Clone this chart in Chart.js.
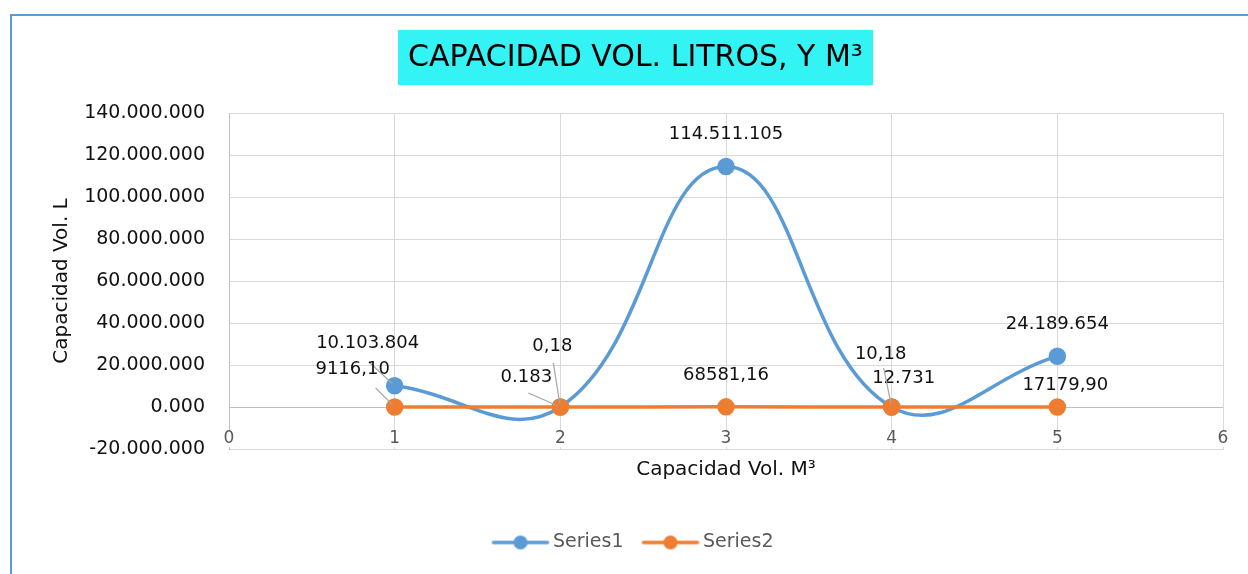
<!DOCTYPE html>
<html><head><meta charset="utf-8">
<script src="https://cdn.jsdelivr.net/npm/chart.js@4.4.0/dist/chart.umd.min.js"></script>
<style>html,body{margin:0;padding:0;background:#fff;overflow:hidden}#wrap{width:1248px;height:574px;position:relative}</style>
</head><body><div id="wrap"><canvas id="c" width="1248" height="574"></canvas></div>
<script>
// ---- data ----
const xValues = [1, 2, 3, 4, 5];
const series1 = [10103804, 183, 114511105, 12731, 24189654];
const series2 = [9116.10, 0.18, 68581.16, 10.18, 17179.90];
const seriesNames = ['Series1', 'Series2'];
const xTickValues = [0, 1, 2, 3, 4, 5, 6];
const yTickValues = [-20000000, 0, 20000000, 40000000, 60000000, 80000000, 100000000, 120000000, 140000000];
const chartTitle = 'CAPACIDAD VOL. LITROS, Y M³';
const xTitle = 'Capacidad Vol. M³';
const yTitle = 'Capacidad Vol. L';

// ---- styles ----
const FONT = "'DejaVu Sans', 'Liberation Sans', sans-serif";
const BLUE = '#5B9BD5', ORANGE = '#ED7D31';
// label placement (pixel offsets from the marker; lead = start of leader line)
const labelPlace = [
  [{dx:-27,dy:-42,lead:[-26,-24]},{dx:-34,dy:-30,lead:[-32,-14]},{dx:0,dy:-32},{dx:12,dy:-29},{dx:0,dy:-32}],
  [{dx:-42,dy:-38,lead:[-19,-19]},{dx:-8,dy:-61,lead:[-7,-44]},{dx:0,dy:-32},{dx:-11,dy:-53,lead:[-8,-39]},{dx:8,dy:-22}]
];

function fmtL(v){
  const neg = v < 0; let s = String(Math.round(Math.abs(v)));
  while (s.length < 4) s = '0' + s;
  s = s.replace(/\B(?=(\d{3})+(?!\d))/g, '.');
  return (neg ? '-' : '') + s;
}
function fmtM(v){ return v.toFixed(2).replace('.', ','); }
const formatters = [fmtL, fmtM];

function markerCanvas(color){
  const c = document.createElement('canvas'); c.width = 60; c.height = 16;
  const g = c.getContext('2d');
  g.strokeStyle = color; g.lineWidth = 3.5; g.lineCap = 'round';
  g.beginPath(); g.moveTo(3, 8); g.lineTo(57, 8); g.stroke();
  g.fillStyle = color; g.beginPath(); g.arc(30, 8, 7, 0, Math.PI*2); g.fill();
  return c;
}
const markers = [markerCanvas(BLUE), markerCanvas(ORANGE)];

const framePlugin = {
  id: 'frame',
  beforeDraw(chart){
    const ctx = chart.ctx; ctx.save();
    ctx.fillStyle = '#fff'; ctx.fillRect(0,0,chart.width,chart.height);
    ctx.strokeStyle = BLUE; ctx.lineWidth = 2;
    ctx.beginPath(); ctx.moveTo(11, chart.height); ctx.lineTo(11, 15); ctx.lineTo(chart.width, 15); ctx.stroke();
    // title background
    const tb = chart.titleBlock;
    ctx.font = "30px " + FONT;
    const w = ctx.measureText(chartTitle).width;
    const cx = (tb.left + tb.right)/2;
    ctx.fillStyle = '#33F3F5';
    ctx.fillRect(Math.round(cx - w/2 - 10), 30, Math.round(w + 20), 55);
    ctx.restore();
  }
};

// x tick labels sit just above the bottom edge of the plot area
const xLabelPlugin = {
  id: 'xlabels',
  afterDraw(chart){
    const ctx = chart.ctx, sx = chart.scales.x, area = chart.chartArea;
    ctx.save();
    ctx.font = "17px " + FONT; ctx.textAlign = 'center'; ctx.textBaseline = 'middle';
    xTickValues.forEach(v => {
      const px = sx.getPixelForValue(v);
      const t = String(v), w = ctx.measureText(t).width;
      ctx.fillStyle = '#fff';
      ctx.fillRect(px - w/2 - 1, area.bottom - 18, w + 2, 16);
      ctx.fillStyle = '#595959';
      ctx.fillText(t, px, area.bottom - 10);
    });
    ctx.restore();
  }
};

const labelPlugin = {
  id: 'dlabels',
  afterDatasetsDraw(chart){
    const ctx = chart.ctx; ctx.save();
    ctx.font = "18px " + FONT; ctx.textAlign = 'center'; ctx.textBaseline = 'middle';
    chart.data.datasets.forEach((ds, di) => {
      const meta = chart.getDatasetMeta(di);
      meta.data.forEach((pt, i) => {
        const p = labelPlace[di][i];
        if (p.lead){
          const sx = pt.x + p.lead[0], sy = pt.y + p.lead[1];
          const d = Math.hypot(sx-pt.x, sy-pt.y);
          const ex = pt.x + (sx-pt.x)/d*3, ey = pt.y + (sy-pt.y)/d*3;
          ctx.strokeStyle = '#a6a6a6'; ctx.lineWidth = 1.2;
          ctx.beginPath(); ctx.moveTo(sx, sy); ctx.lineTo(ex, ey); ctx.stroke();
        }
        ctx.fillStyle = '#111';
        ctx.fillText(formatters[di](ds.data[i].y), pt.x + p.dx, pt.y + p.dy);
      });
    });
    ctx.restore();
  }
};

const mk = (ys) => xValues.map((x, i) => ({x, y: ys[i]}));

new Chart(document.getElementById('c'), {
  type: 'line',
  data: {
    datasets: [
      {label: seriesNames[0], data: mk(series1), borderColor: BLUE, backgroundColor: BLUE,
       borderWidth: 3.5, pointRadius: 7, pointHoverRadius: 7, tension: 0.43, order: 2, fill: false},
      {label: seriesNames[1], data: mk(series2), borderColor: ORANGE, backgroundColor: ORANGE,
       borderWidth: 3.5, pointRadius: 7, pointHoverRadius: 7, tension: 0.43, order: 1, fill: false}
    ]
  },
  options: {
    responsive: false, animation: false, devicePixelRatio: 1,
    layout: {padding: {left: 48, right: 25, top: 40, bottom: 12}},
    plugins: {
      tooltip: {enabled: false},
      title: {display: true, text: chartTitle, color: '#000', font: {family: FONT, size: 30, weight: 'normal'},
              padding: {top: 0, bottom: 37}},
      legend: {position: 'bottom',
        labels: {usePointStyle: true, pointStyleWidth: 46, padding: 24, color: '#595959',
          font: {family: FONT, size: 19},
          sort: (a, b) => a.datasetIndex - b.datasetIndex,
          generateLabels(chart){
            const items = Chart.defaults.plugins.legend.labels.generateLabels(chart);
            items.forEach(it => { it.pointStyle = markers[it.datasetIndex]; });
            return items;
          }
        }
      }
    },
    scales: {
      x: {type: 'linear', min: 0, max: 6,
        afterBuildTicks: s => { s.ticks = xTickValues.map(v => ({value: v})); },
        afterFit: s => { s.height = 60; },
        grid: {color: '#d9d9d9', lineWidth: 1, drawTicks: false},
        border: {color: '#d9d9d9'},
        ticks: {display: false},
        title: {display: true, text: xTitle, color: '#111', font: {family: FONT, size: 20}, padding: {top: 0, bottom: 27}}
      },
      y: {type: 'linear', min: -20000000, max: 140000000,
        afterBuildTicks: s => { s.ticks = yTickValues.map(v => ({value: v})); },
        afterFit: s => { s.width = 181; },
        grid: {color: ctx => ctx.tick && ctx.tick.value === 0 ? '#bfbfbf' : '#d9d9d9', lineWidth: 1, drawTicks: false},
        border: {color: '#bfbfbf'},
        ticks: {padding: 24, color: '#111', font: {family: FONT, size: 19}, callback: v => fmtL(v)},
        title: {display: true, text: yTitle, color: '#111', font: {family: FONT, size: 20}, padding: {top: 2, bottom: 0}}
      }
    }
  },
  plugins: [framePlugin, xLabelPlugin, labelPlugin]
});
</script></body></html>
